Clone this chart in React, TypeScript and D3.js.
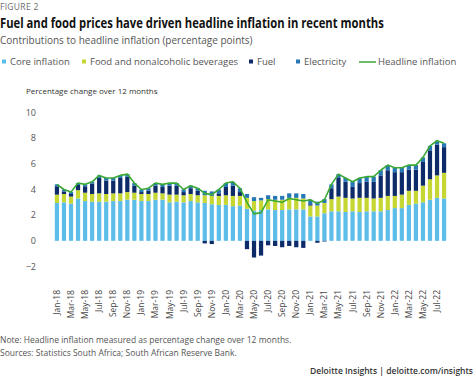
import { useEffect, useRef } from 'react'
import * as d3 from 'd3'

// months shown as bars (Jan-18 .. Aug-22)
const months = [
  'Jan-18', 'Feb-18', 'Mar-18', 'Apr-18', 'May-18', 'Jun-18', 'Jul-18', 'Aug-18', 'Sep-18', 'Oct-18', 'Nov-18', 'Dec-18',
  'Jan-19', 'Feb-19', 'Mar-19', 'Apr-19', 'May-19', 'Jun-19', 'Jul-19', 'Aug-19', 'Sep-19', 'Oct-19', 'Nov-19', 'Dec-19',
  'Jan-20', 'Feb-20', 'Mar-20', 'Apr-20', 'May-20', 'Jun-20', 'Jul-20', 'Aug-20', 'Sep-20', 'Oct-20', 'Nov-20', 'Dec-20',
  'Jan-21', 'Feb-21', 'Mar-21', 'Apr-21', 'May-21', 'Jun-21', 'Jul-21', 'Aug-21', 'Sep-21', 'Oct-21', 'Nov-21', 'Dec-21',
  'Jan-22', 'Feb-22', 'Mar-22', 'Apr-22', 'May-22', 'Jun-22', 'Jul-22', 'Aug-22',
]

const core = [
  2.95, 3.0, 2.9, 3.3, 3.1, 3.05, 3.05, 3.05, 3.1, 3.1, 3.2, 3.2,
  3.1, 3.1, 3.2, 3.2, 3.0, 3.05, 3.0, 3.1, 3.0, 2.95, 2.85, 2.8,
  2.8, 2.7, 2.75, 2.5, 2.35, 2.4, 2.45, 2.4, 2.4, 2.45, 2.45, 2.45,
  1.9, 1.9, 2.15, 2.3, 2.3, 2.25, 2.3, 2.25, 2.3, 2.3, 2.3, 2.4,
  2.55, 2.55, 2.8, 2.9, 3.0, 3.2, 3.35, 3.3,
]
const food = [
  0.65, 0.65, 0.55, 0.65, 0.65, 0.6, 0.65, 0.6, 0.6, 0.6, 0.6, 0.55,
  0.55, 0.55, 0.55, 0.5, 0.6, 0.55, 0.55, 0.55, 0.55, 0.6, 0.65, 0.7,
  0.75, 0.8, 0.75, 0.85, 0.75, 0.75, 0.8, 0.8, 0.8, 0.9, 0.9, 0.85,
  0.85, 0.85, 0.8, 0.95, 1.15, 1.1, 1.0, 1.1, 1.05, 1.0, 1.05, 1.1,
  0.95, 1.05, 1.1, 1.0, 1.3, 1.6, 1.75, 2.0,
]
const fuel = [
  0.65, 0.2, 0.2, 0.4, 0.5, 0.8, 1.2, 1.05, 1.0, 1.2, 1.2, 0.55,
  0.15, 0.25, 0.55, 0.5, 0.7, 0.7, 0.25, 0.45, 0.35, -0.2, -0.25, 0.2,
  0.65, 0.8, 0.3, -0.65, -1.3, -1.15, -0.35, -0.4, -0.5, -0.4, -0.5, -0.55,
  0.1, -0.15, -0.05, 0.85, 1.45, 1.25, 0.9, 1.15, 1.25, 1.3, 1.75, 2.0,
  1.85, 1.75, 1.65, 1.65, 1.85, 2.25, 2.4, 2.0,
]
const electricity = [
  0.15, 0.15, 0.15, 0.15, 0.15, 0.15, 0.2, 0.2, 0.2, 0.2, 0.2, 0.2,
  0.2, 0.2, 0.2, 0.2, 0.2, 0.2, 0.2, 0.2, 0.2, 0.35, 0.35, 0.3,
  0.3, 0.3, 0.3, 0.3, 0.3, 0.2, 0.3, 0.3, 0.3, 0.35, 0.35, 0.35,
  0.35, 0.3, 0.3, 0.3, 0.3, 0.3, 0.4, 0.4, 0.4, 0.4, 0.4, 0.4,
  0.35, 0.35, 0.35, 0.35, 0.35, 0.35, 0.3, 0.3,
]
const headline = [
  4.4, 4.0, 3.8, 4.5, 4.4, 4.6, 5.1, 4.9, 4.9, 5.1, 5.2, 4.5,
  4.0, 4.1, 4.5, 4.4, 4.5, 4.5, 4.0, 4.3, 4.1, 3.7, 3.6, 4.0,
  4.5, 4.6, 4.1, 3.0, 2.1, 2.2, 3.2, 3.1, 3.0, 3.3, 3.2, 3.1,
  3.2, 2.9, 3.2, 4.4, 5.2, 4.9, 4.6, 4.9, 5.0, 5.0, 5.5, 5.9,
  5.7, 5.7, 5.9, 5.9, 6.5, 7.4, 7.8, 7.6,
]

const yTicks = [-2, 0, 2, 4, 6, 8, 10]

const keys = ['core', 'food', 'fuel', 'electricity']
const colors = {
  core: '#5dbde9',
  food: '#c6d633',
  fuel: '#0d2b69',
  electricity: '#2677b6',
  headline: '#3aa935',
}
const legendItems = [
  { key: 'core', label: 'Core inflation', x: 2 },
  { key: 'food', label: 'Food and nonalcoholic beverages', x: 82 },
  { key: 'fuel', label: 'Fuel', x: 249 },
  { key: 'electricity', label: 'Electricity', x: 296 },
]

const font = '"Open Sans", sans-serif'

export default function App() {
  const svgRef = useRef(null)
  const width = 474
  const height = 388

  useEffect(() => {
    const svg = d3.select(svgRef.current)
    svg.selectAll('*').remove()

    const rows = months.map((m, i) => ({
      month: m,
      core: core[i],
      food: food[i],
      fuel: fuel[i],
      electricity: electricity[i],
    }))
    const stacked = d3.stack().keys(keys).offset(d3.stackOffsetDiverging)(rows)

    const x = d3.scaleBand().domain(months).range([52, 449]).padding(0.4)
    const y = d3.scaleLinear().domain([-2, 10]).range([266.5, 112.5])

    // header
    svg.append('text')
      .attr('x', 0).attr('y', 10)
      .attr('font-family', font).attr('font-size', 8.5)
      .attr('fill', '#6b6b6b').attr('letter-spacing', 0.3)
      .text('FIGURE 2')

    // title is set in a condensed face in the original: squeeze it horizontally
    const titleG = svg.append('g')
    const title = titleG.append('text')
      .attr('x', 0).attr('y', 0)
      .attr('font-family', font).attr('font-size', 15).attr('font-weight', 700)
      .attr('fill', '#111')
      .text('Fuel and food prices have driven headline inflation in recent months')
    const natural = title.node().getComputedTextLength() || 384
    titleG.attr('transform', `translate(0,28) scale(${384 / natural},1)`)

    svg.append('text')
      .attr('x', 0).attr('y', 44)
      .attr('font-family', font).attr('font-size', 10)
      .attr('fill', '#555')
      .text('Contributions to headline inflation (percentage points)')

    // legend
    const legend = svg.append('g').attr('font-family', font).attr('font-size', 9.5).attr('fill', '#555')
    legendItems.forEach(d => {
      legend.append('rect')
        .attr('x', d.x).attr('y', 59.5).attr('width', 4).attr('height', 4)
        .attr('fill', colors[d.key])
      legend.append('text')
        .attr('x', d.x + 8).attr('y', 65)
        .text(d.label)
    })
    legend.append('line')
      .attr('x1', 359).attr('x2', 376).attr('y1', 62).attr('y2', 62)
      .attr('stroke', colors.headline).attr('stroke-width', 1.5)
    legend.append('text').attr('x', 378).attr('y', 65).text('Headline inflation')

    svg.append('text')
      .attr('x', 26).attr('y', 94)
      .attr('font-family', font).attr('font-size', 8)
      .attr('fill', '#333')
      .text('Percentage change over 12 months')

    // y tick labels
    svg.append('g')
      .selectAll('text')
      .data(yTicks)
      .enter()
      .append('text')
      .attr('x', 36)
      .attr('y', d => y(d))
      .attr('dy', '0.35em')
      .attr('text-anchor', 'end')
      .attr('font-family', font).attr('font-size', 9)
      .attr('fill', '#555')
      .text(d => d < 0 ? '\u2212' + Math.abs(d) : d)

    // stacked bars
    svg.append('g')
      .selectAll('g')
      .data(stacked)
      .enter()
      .append('g')
      .attr('fill', d => colors[d.key])
      .selectAll('rect')
      .data(d => d)
      .enter()
      .append('rect')
      .attr('x', d => x(d.data.month))
      .attr('width', x.bandwidth())
      .attr('y', d => y(Math.max(d[0], d[1])))
      .attr('height', d => Math.abs(y(d[0]) - y(d[1])))

    // headline line
    const line = d3.line()
      .x((d, i) => x(months[i]) + x.bandwidth() / 2)
      .y(d => y(d))
    svg.append('path')
      .datum(headline)
      .attr('d', line)
      .attr('fill', 'none')
      .attr('stroke', colors.headline)
      .attr('stroke-width', 1.6)
      .attr('stroke-linejoin', 'round')

    // x labels, every other month
    const xAxis = svg.append('g')
    xAxis.selectAll('text')
      .data(months.filter((m, i) => i % 2 === 0))
      .enter()
      .append('text')
      .attr('transform', d => `translate(${x(d) + x.bandwidth() / 2 + 3},290) rotate(-90)`)
      .attr('text-anchor', 'end')
      .attr('font-family', font).attr('font-size', 8.5)
      .attr('fill', '#444')
      .text(d => d)

    // footer
    svg.append('text')
      .attr('x', 0).attr('y', 343)
      .attr('font-family', font).attr('font-size', 8.5)
      .attr('fill', '#555')
      .text('Note: Headline inflation measured as percentage change over 12 months.')
    svg.append('text')
      .attr('x', 0).attr('y', 356)
      .attr('font-family', font).attr('font-size', 8.5)
      .attr('fill', '#555')
      .text('Sources: Statistics South Africa; South African Reserve Bank.')
    svg.append('text')
      .attr('x', 473).attr('y', 374)
      .attr('text-anchor', 'end')
      .attr('font-family', font).attr('font-size', 8.5).attr('font-weight', 600)
      .attr('fill', '#333')
      .text('Deloitte Insights | deloitte.com/insights')
  }, [])

  return (
    <svg
      ref={svgRef}
      width={width}
      height={height}
      style={{ position: 'absolute', left: 0, top: 0, background: '#fff' }}>
    </svg>
  )
}
